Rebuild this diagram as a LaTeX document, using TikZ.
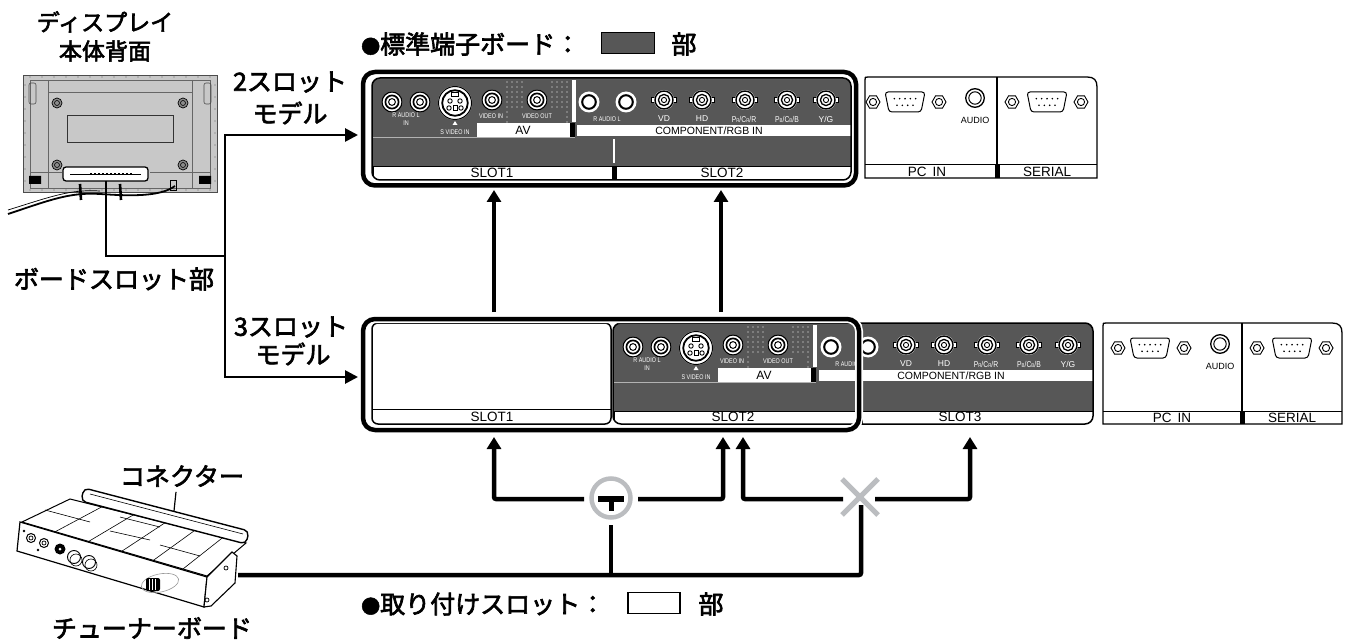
\documentclass[tikz,border=0pt]{standalone}
\usepackage{fontspec}
\usepackage{graphicx}
\setmainfont{Liberation Sans}
\newfontfamily\jp{Noto Sans CJK JP}[FakeBold=2.6]
\usetikzlibrary{arrows.meta,shapes.geometric,calc}
\definecolor{panel}{HTML}{575757}
\definecolor{markgray}{HTML}{BBBDC0}
\definecolor{dispgray}{HTML}{C8C8C8}
\newcommand\jfs[1]{\jp\fontsize{#1}{#1}\selectfont}
\newcommand\cnd[1]{\scalebox{0.8}[1]{#1}}
\newcommand\bdot{{\fontsize{19}{19}\selectfont ●}}
\newcommand\rcaj[2]{%
 \fill[white] (#1,#2) circle (10.5pt);
 \draw[line width=1.2pt] (#1,#2) circle (10pt);
 \draw[line width=1.7pt] (#1,#2) circle (6.6pt);
 \draw[line width=1pt] (#1,#2) circle (3.4pt);}
\newcommand\plainrca[2]{%
 \fill[white] (#1,#2) circle (10.5pt);
 \draw[line width=2pt] (#1,#2) circle (6.8pt);}
\newcommand\bncj[2]{%
 \filldraw[fill=white, line width=0.7pt] (#1-12.5,#2-2.5) rectangle (#1+12.5,#2+2.5);
 \fill[white] (#1,#2) circle (10pt);
 \draw[line width=1.4pt] (#1,#2) circle (9pt);
 \draw[line width=1.3pt] (#1,#2) circle (5.6pt);
 \draw[line width=0.9pt] (#1,#2) circle (2.6pt);}
\newcommand\svid[2]{%
 \fill[white] (#1,#2) circle (17pt);
 \draw[line width=1pt] (#1,#2) circle (16.5pt);
 \draw[line width=1.8pt] (#1,#2) circle (12.8pt);
 \draw[line width=0.8pt] (#1-3.5,#2-10.5) rectangle (#1+3.5,#2-7);
 \foreach \dx/\dy in {-5/-2,5/-2,-6/5,6/5} {\draw[line width=0.9pt] (#1,#2) ++(\dx,\dy) circle (2.2pt);}
 \draw[line width=0.8pt] (#1-2,#2+2) rectangle (#1+2,#2+7);}
\newcommand\hexnut[2]{%
 \filldraw[fill=white, line width=0.9pt] (#1,#2) ++(0:7pt) -- ++(120:7pt) -- ++(180:7pt) -- ++(240:7pt) -- ++(300:7pt) -- ++(0:7pt) -- cycle;
 \draw[line width=0.9pt] (#1,#2) circle (3.6pt);}
\newcommand\dsub[4]{%
 \draw[line width=1pt, rounded corners=3pt, fill=white] (#1-#3/2,#2-#4/2) -- (#1+#3/2,#2-#4/2) -- (#1+#3/2-4,#2+#4/2) -- (#1-#3/2+4,#2+#4/2) -- cycle;
 \foreach \i in {-2,-1,0,1,2} {\fill (#1,#2) ++(\i*#3/7.5,-#4/6) circle (0.9pt);}
 \foreach \i in {-1.5,-0.5,0.5,1.5} {\fill (#1,#2) ++(\i*#3/7.5,#4/6) circle (0.9pt);}}
\newcommand\audj[2]{%
 \fill[white] (#1,#2) circle (10pt);
 \draw[line width=1.3pt] (#1,#2) circle (9.3pt);
 \draw[line width=1pt] (#1,#2) circle (6.2pt);}
\newcommand\avboard{%
 \rcaj{20}{24}\rcaj{48}{24}
 \node[tl] at (34,37) {\cnd{R AUDIO L}};
 \node[tl] at (34,45) {\cnd{IN}};
 \svid{83}{25}
 \fill[white] (80.5,47) -- (85.5,47) -- (83,43) -- cycle;
 \node[tl] at (83,54.5) {\cnd{S VIDEO IN}};
 \foreach \x in {135,140,145,150,180,185,190,195} {\foreach \y in {4,9,...,29} {\fill[white] (\x,\y) circle (0.6pt);}}
 \foreach \y in {34,39,44} {\fill[white] (135,\y) circle (0.6pt); \fill[white] (195,\y) circle (0.6pt);}
 \rcaj{120}{22}\rcaj{165}{22}
 \node[tl] at (119,38) {\cnd{VIDEO IN}};
 \node[tl] at (165,38) {\cnd{VIDEO OUT}};
 \fill[white] (105,45) rectangle (198,59);
 \node[avl] at (151,52.5) {AV};
 \fill[black] (198,45) rectangle (203,59);
 \fill[white] (200,2) rectangle (204,44);}
\newcommand\compboard{%
 \plainrca{13}{24}\plainrca{50}{24}
 \bncj{88}{22}\bncj{126}{22}\bncj{169}{22}\bncj{211}{22}\bncj{250}{22}
 \node[tl] at (31,41) {\cnd{R AUDIO L}};
 \node[tlb] at (88,41) {VD};
 \node[tlb] at (126,41) {HD};
 \node[tlb] at (168,41) {\cnd{P{\fontsize{5.5}{6}\selectfont R}/C{\fontsize{5.5}{6}\selectfont R}/R}};
 \node[tlb] at (211,41) {\cnd{P{\fontsize{5.5}{6}\selectfont B}/C{\fontsize{5.5}{6}\selectfont B}/B}};
 \node[tlb] at (250,41) {Y/G};
 \fill[white] (1,47) rectangle (275,58);
 \node[cl] at (133,52.5) {COMPONENT/RGB IN};}
\newcommand\pcpanel[1]{%
 \filldraw[fill=white, line width=1.3pt] (-#1,101) -- (-#1,3) .. controls (-#1,0) .. (-#1+3,0) -- (222,0) .. controls (229,0) and (232,3) .. (232,10) -- (232,101) -- cycle;
 \draw[line width=1.2pt] (132,0) -- (132,101);
 \draw[line width=1pt] (-#1,88) -- (232,88);
 \fill (129.5,88) rectangle (134.5,101);
 \node[sl] at (62,95) {PC\hspace{6pt}IN};
 \node[sl] at (182,95) {SERIAL};
 \hexnut{8}{25}\dsub{40}{25}{40}{20}\hexnut{74}{25}
 \audj{110}{21}\node[au] at (110,43) {AUDIO};
 \hexnut{147}{25}\dsub{182}{25}{40}{20}\hexnut{216}{25}}
\begin{document}
\begin{tikzpicture}[x=1pt,y=-1pt,
 tl/.style={text=white, font=\fontsize{6.8}{7}\selectfont, inner sep=0pt},
 tlb/.style={text=white, font=\fontsize{8.5}{9}\selectfont, inner sep=0pt},
 cl/.style={font=\fontsize{10.5}{11}\selectfont, inner sep=0pt},
 sl/.style={font=\fontsize{13.5}{14}\selectfont, inner sep=0pt},
 au/.style={font=\fontsize{9}{10}\selectfont, inner sep=0pt},
 avl/.style={font=\fontsize{12}{12}\selectfont, inner sep=0pt},
 jl/.style={font=\jfs{25}, inner sep=0pt},
 jleg/.style={font=\jfs{25}, inner sep=0pt},
 frame/.style={line width=4.5pt, rounded corners=12pt},
 halo/.style={white, line width=8pt, rounded corners=12pt},
 conn/.style={line width=4.5pt},
 lconn/.style={line width=2.7pt},
 tip/.style={-{Triangle[width=14pt,length=12pt]}},
 ltip/.style={{Triangle[width=13pt,length=13pt]}-{Triangle[width=13pt,length=13pt]}},
 ]
\useasboundingbox (0,0) rectangle (1348,644);
% ---------------- top legend
\node[jleg, anchor=west] (leg1) at (361,44) {\bdot 標準端子ボード：};
\node[draw, fill=panel, line width=1.5pt, minimum width=53pt, minimum height=21pt, inner sep=0] (box1) at (628,43) {};
\node[jleg] (bu1) at (684,44) {部};
% ---------------- bottom legend
\node[jleg, anchor=west] (leg2) at (361,604) {\bdot 取り付けスロット：};
\node[draw, fill=white, line width=1.5pt, minimum width=52pt, minimum height=21pt, inner sep=0] (box2) at (654,603) {};
\node[jleg] (bu2) at (711,604) {部};
% ---------------- left labels
\node[font=\jfs{23}, inner sep=0] (disp1) at (105,22) {ディスプレイ};
\node[font=\jfs{23}, inner sep=0] (disp2) at (105,51) {本体背面};
\node[jl] (bslot) at (114,279) {ボードスロット部};
\node[jl] (m2a) at (290,82) {2スロット};
\node[jl] (m2b) at (290,113) {モデル};
\node[jl] (m3a) at (291,327) {3スロット};
\node[jl] (m3b) at (293,354) {モデル};
\node[jl] (conlbl) at (182,476) {コネクター};
\node[jl] (tuner) at (152,628) {チューナーボード};
% ---------------- display rear
\fill[dispgray] (23,75) rectangle (217,192);
\draw[line width=0.8pt, black!70] (23,75) rectangle (217,192);
\foreach \x in {30,42,...,210} {\fill[black!60] (\x,77) circle (0.7pt); \fill[black!60] (\x,190) circle (0.7pt);}
\foreach \y in {85,97,...,185} {\fill[black!60] (25,\y) circle (0.7pt); \fill[black!60] (215,\y) circle (0.7pt);}
\draw[black!60, line width=0.6pt] (30,80) rectangle (210,188);
\draw[black!60, line width=0.6pt] (48,80) -- (48,188) (192,80) -- (192,188) (48,92) -- (192,92);
\draw[black!70, line width=0.6pt, rounded corners=2pt] (29,83) rectangle (36,104) (204,83) rectangle (211,104);
\draw[black!80, line width=0.8pt] (67,115) rectangle (173,142);
\foreach \p in {(57,103),(183,103),(57,165),(183,165)} {\filldraw[fill=black!45, line width=0.7pt] \p circle (5pt); \draw[line width=0.6pt] \p circle (2.5pt);}
\draw[black!60, line width=0.6pt] (30,172) -- (62,172) (150,172) -- (210,172);
\fill (29,176) rectangle (41,184) (199,176) rectangle (211,184);
\draw[line width=0.7pt] (170,180) rectangle (176,190);
\draw[line width=1.8pt] (8,214) .. controls (50,200) and (70,192) .. (100,194) .. controls (130,196) and (160,197) .. (175,186);
\draw[line width=0.7pt] (8,210) .. controls (50,197) and (70,189) .. (100,191);
\draw[line width=2.6pt] (80,184) -- (81,200) (120,184) -- (121,200);
\node[draw, fill=white, line width=1.3pt, rounded corners=3pt, minimum width=85pt, minimum height=14pt, inner sep=0] (slotbox) at (105.5,174) {};
\draw[line width=0.8pt] (70,174.5) -- (141,174.5);
\foreach \x in {90,94,...,130} {\fill (\x,173.5) rectangle ++(2.2,2);}
% ---------------- tuner board
\draw[line width=1pt, fill=white] (22,522) -- (70,499) -- (246,543) -- (207,576) -- cycle;
\foreach \t in {0.18,0.36,0.54,0.71,0.87} {\draw[line width=0.6pt] ($(22,522)!\t!(207,576)$) -- ($(70,499)!\t!(246,543)$);}
\draw[line width=0.6pt] (45,510) -- (90,522) (110,531) -- (150,540) (160,545) -- (200,556) (120,517) -- (160,527);
\draw[line width=1.2pt, fill=white] (20,522) -- (207,577) -- (204,607) -- (17,551) -- cycle;
\draw[line width=1.1pt, fill=white] (207,577) -- (232,552) -- (237,556) -- (235,583) -- (211,606) -- (204,607) -- cycle;
\draw[line width=0.7pt] (226,568) circle (2pt) (207,600) circle (2pt);
\draw[line width=1.4pt, fill=white, rounded corners=5pt] (84,488) -- (249,531) -- (246,544) -- (81,501) -- cycle;
\draw[line width=0.6pt] (90,494) -- (243,534);
\foreach \p in {(31,538),(44,543)} {\draw[line width=1pt] \p circle (4.5pt); \draw[line width=0.7pt] \p circle (2pt);}
\fill (60,549) circle (5.5pt); \fill[white] (60,549) circle (1.5pt);
\foreach \p in {(74,557),(89,562)} {\draw[line width=0.9pt] \p circle (6.5pt); \draw[line width=0.6pt] \p ++(2,3) circle (6pt);}
\fill (24,531) circle (1.3pt) (38,550) circle (1.3pt);
\draw[black!40, line width=0.6pt, rotate around={12:(160,583)}] (160,583) ellipse (19pt and 9pt);
\fill[rounded corners=2pt] (146,578) rectangle (160,591);
\foreach \x in {149,152,155} {\draw[white, line width=0.5pt] (\x,579) -- (\x,590);}
\coordinate (cbar) at (174,511);
\draw[line width=1.2pt] (conlbl.south) ++(-6,5) -- (cbar);
% ---------------- top panel (2 slot)
\begin{scope}
\clip[rounded corners=8pt] (372,78) rectangle (851,180);
\fill[panel] (372,78) rectangle (851,180);
\begin{scope}[shift={(372,78)}]\avboard\end{scope}
\begin{scope}[shift={(576,78)}]\compboard\end{scope}
\draw[black!30, line width=0.8pt] (373,137.5) -- (575,137.5);
\draw[white, line width=1.2pt] (614,139) -- (614,163);
\filldraw[fill=white, line width=0.8pt] (373,166.5) rectangle (612,181);
\fill (612,166) rectangle (616,181);
\filldraw[fill=white, line width=0.8pt] (616,166.5) rectangle (851,181);
\end{scope}
\draw[line width=1.5pt, rounded corners=8pt] (372,78) rectangle (851,180);
\node[sl] (s1a) at (492,173) {SLOT1};
\node[sl] (s2a) at (722,173) {SLOT2};
\begin{scope}[shift={(865,77)}]\pcpanel{0}\end{scope}
\draw[halo] (363,72) rectangle (856,185.5);
\draw[frame] (363,72) rectangle (856,185.5);
% ---------------- bottom panel (3 slot)
\filldraw[fill=white, line width=1.5pt, rounded corners=6pt] (372,323) rectangle (611,424);
\draw[line width=0.8pt] (372,409) -- (611,409);
\node[sl] (s1b) at (492,417) {SLOT1};
\begin{scope}
\clip[rounded corners=8pt] (613,323) rectangle (1093,424);
\fill[panel] (613,323) rectangle (1093,424);
\begin{scope}[shift={(613,323)}]\avboard\end{scope}
\begin{scope}[shift={(818,323)}]\compboard\end{scope}
\draw[black!30, line width=0.8pt] (614,382.5) -- (816,382.5);
\filldraw[fill=white, line width=0.8pt] (614,411.5) rectangle (857,425);
\fill (857,411) rectangle (862,425);
\filldraw[fill=white, line width=0.8pt] (862,411.5) rectangle (1093,425);
\end{scope}
\draw[line width=1.5pt, rounded corners=8pt] (613,323) rectangle (1093,424);
\node[sl] (s2b) at (733,417) {SLOT2};
\node[sl] (s3b) at (960,417) {SLOT3};
\begin{scope}[shift={(1110,323)}]\pcpanel{7}\end{scope}
\draw[halo] (363,319) rectangle (859,430);
\draw[frame] (363,319) rectangle (859,430);
% ---------------- left connectors
\coordinate (slotp) at (106,181);
\coordinate (k0) at (106,256);
\coordinate (k1) at (225,256);
\coordinate (a2) at (358,135);
\coordinate (a3) at (358,377);
\draw[lconn] (slotp) -- (k0) -- (k1);
\draw[lconn, ltip] (a2) -- (225,135) -- (225,377) -- (a3);
% ---------------- up arrows between panels
\coordinate (ua1) at (494,312); \coordinate (ub1) at (494,190);
\coordinate (ua2) at (721,312); \coordinate (ub2) at (721,190);
\draw[conn, tip] (ua1) -- (ub1);
\draw[conn, tip] (ua2) -- (ub2);
% ---------------- lower arrows
\coordinate (g1) at (584,499); \coordinate (t1) at (494,437);
\coordinate (g2) at (638,499); \coordinate (t2) at (723,437);
\coordinate (g3) at (843,499); \coordinate (t3) at (743,437);
\coordinate (g4) at (875,499); \coordinate (t4) at (970,437);
\draw[conn, tip, rounded corners=2pt] (g1) -- (494,499) -- (t1);
\draw[conn, tip, rounded corners=2pt] (g2) -- (723,499) -- (t2);
\draw[conn, tip, rounded corners=2pt] (g3) -- (743,499) -- (t3);
\draw[conn, tip, rounded corners=2pt] (g4) -- (970,499) -- (t4);
\coordinate (tb) at (238,575);
\coordinate (xb) at (861,505);
\coordinate (cb) at (611,525);
\draw[conn, rounded corners=2pt] (tb) -- (861,575) -- (xb);
\draw[conn] (611,577) -- (cb);
\node[circle, draw=markgray, line width=4.5pt, minimum size=39pt, inner sep=0] (okm) at (611,498) {};
\fill (598,495.5) rectangle (624,501.5);
\fill (608.5,501) rectangle (613.5,511);
\coordinate (ngm) at (860,497);
\draw[markgray, line width=5pt] (ngm) ++(-18,-18) -- ++(36,36) (ngm) ++(-18,18) -- ++(36,-36);
\end{tikzpicture}
\end{document}
